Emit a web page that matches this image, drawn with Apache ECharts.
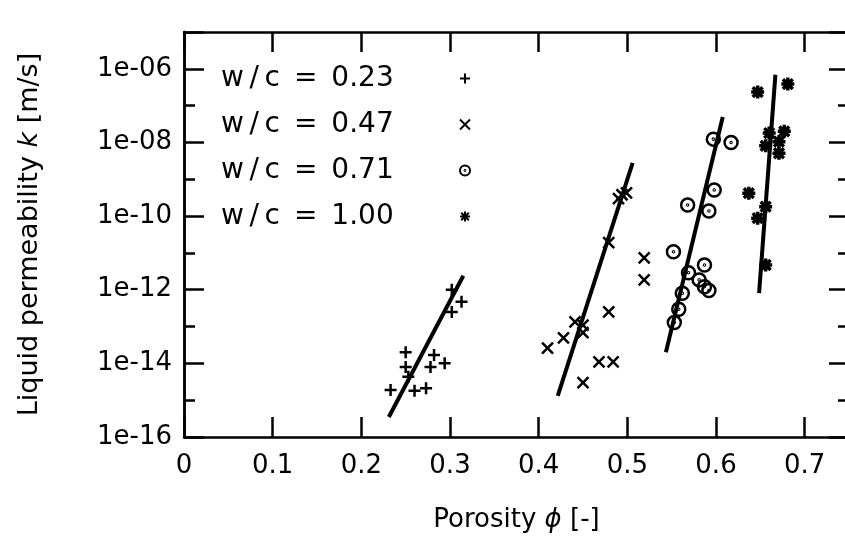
<!DOCTYPE html>
<html>
<head>
<meta charset="utf-8">
<script src="https://cdn.jsdelivr.net/npm/echarts@6/dist/echarts.min.js"></script>
<style>html,body{margin:0;padding:0;background:#fff;}#c{width:845px;height:540px;}</style>
</head>
<body>
<div id="c"></div>
<script>
// ---- data (porosity, permeability m/s) ----
const wc023 = [[0.302,1.0e-12],[0.313,4.7e-13],[0.302,2.5e-13],[0.250,2.0e-14],[0.282,1.7e-14],[0.294,1.0e-14],[0.250,8.0e-15],[0.278,8.0e-15],[0.253,4.3e-15],[0.233,1.9e-15],[0.260,1.8e-15],[0.273,2.1e-15]];
const wc047 = [[0.410,2.6e-14],[0.428,4.9e-14],[0.441,1.33e-13],[0.450,1.1e-13],[0.450,6.8e-14],[0.479,1.9e-11],[0.494,3.8e-10],[0.499,4.3e-10],[0.490,3.0e-10],[0.519,7.3e-12],[0.519,1.85e-12],[0.479,2.5e-13],[0.468,1.1e-14],[0.484,1.1e-14],[0.450,3.0e-15]];
const wc071 = [[0.597,1.23e-8],[0.617,1.0e-8],[0.598,5.1e-10],[0.568,2.0e-10],[0.592,1.38e-10],[0.552,1.08e-11],[0.587,4.7e-12],[0.569,2.9e-12],[0.581,1.85e-12],[0.587,1.2e-12],[0.592,9.5e-13],[0.562,8.0e-13],[0.558,2.95e-13],[0.553,1.28e-13]];
const wc100 = [[0.647,2.33e-7],[0.681,3.84e-7],[0.660,1.8e-8],[0.677,2.0e-8],[0.656,8.1e-9],[0.671,1.05e-8],[0.671,5.1e-9],[0.637,4.2e-10],[0.656,1.8e-10],[0.647,8.8e-11],[0.656,4.7e-12]];
const fit023 = [[0.231,3.5e-16],[0.315,2.4e-12]];
const fit047 = [[0.4215,1.3e-15],[0.506,2.8e-9]];
const fit071 = [[0.5435,2.0e-14],[0.6076,4.9e-8]];
const fit100 = [[0.6486,8.1e-13],[0.667,6.9e-7]];
const seriesNames = ['w/c = 0.23','w/c = 0.47','w/c = 0.71','w/c = 1.00'];
const legendLabels = ['w\u2009/\u2009c\u2002=\u20020.23','w\u2009/\u2009c\u2002=\u20020.47','w\u2009/\u2009c\u2002=\u20020.71','w\u2009/\u2009c\u2002=\u20021.00'];
const xTickLabels = ['0','0.1','0.2','0.3','0.4','0.5','0.6','0.7'];
const yTickLabels = {'-16':'1e-16','-14':'1e-14','-12':'1e-12','-10':'1e-10','-8':'1e-08','-6':'1e-06'};

const PLUS = 'path://M5,0L5,10M0,5L10,5';
const CROSS = 'path://M0,0L10,10M0,10L10,0';
const CIRC = 'path://M5,0A5,5 0 1 1 5,10A5,5 0 1 1 5,0ZM5,4.6A0.4,0.4 0 1 1 5,5.4A0.4,0.4 0 1 1 5,4.6Z';
const STAR = 'path://M5,0L5,10M0,5L10,5M1.2,1.2L8.8,8.8M1.2,8.8L8.8,1.2';

const FONT = 'DejaVu Sans';
const chart = echarts.init(document.getElementById('c'));

function yAxisDef(pos, interval, len, labels) {
  return {
    type: 'log', logBase: 10, min: 1e-16, max: 1e-5, interval: interval, position: pos,
    axisLine: {show: true, lineStyle: {color: '#000', width: 2.5}},
    axisTick: {show: true, inside: true, length: len, lineStyle: {color: '#000', width: 2.5}},
    axisLabel: {show: labels, color: '#000', fontFamily: FONT, fontSize: 26, margin: 12,
      formatter: function (v) { const e = Math.round(Math.log10(v)); return yTickLabels[String(e)] || ''; }},
    splitLine: {show: false}, minorTick: {show: false}
  };
}
function xAxisDef(pos, labels) {
  return {
    type: 'value', min: 0, max: 0.75, interval: 0.1, position: pos,
    axisLine: {show: true, onZero: false, lineStyle: {color: '#000', width: 2.5}},
    axisTick: {show: true, inside: true, length: 20, lineStyle: {color: '#000', width: 2.5}},
    axisLabel: {show: labels, color: '#000', fontFamily: FONT, fontSize: 26, margin: 16,
      formatter: function (v) { const i = Math.round(v * 10); return xTickLabels[i] !== undefined ? xTickLabels[i] : ''; }},
    splitLine: {show: false}
  };
}

const xs = [xAxisDef('bottom', true), xAxisDef('top', false)];
xs[0].name = 'Porosity {i|ϕ} [-]';
xs[0].nameLocation = 'middle';
xs[0].nameGap = 70;
xs[0].nameTextStyle = {color: '#000', fontFamily: FONT, fontSize: 26, rich: {i: {fontStyle: 'italic', fontFamily: FONT, fontSize: 26, color: '#000'}}};

const ys = [yAxisDef('left', 2, 20, true), yAxisDef('left', 1, 11, false), yAxisDef('right', 2, 20, false), yAxisDef('right', 1, 11, false)];
ys[0].name = 'Liquid permeability {i|k} [m/s]';
ys[0].nameLocation = 'middle';
ys[0].nameGap = 141;
ys[0].nameTextStyle = {color: '#000', fontFamily: FONT, fontSize: 27, rich: {i: {fontStyle: 'italic', fontFamily: FONT, fontSize: 27, color: '#000'}}};

function scat(name, data, sym, size, bw) {
  return {type: 'scatter', name: name, data: data, symbol: sym, symbolSize: size,
    itemStyle: {color: 'none', borderColor: '#000', borderWidth: bw, opacity: 1},
    emphasis: {disabled: true}, z: 3};
}
function fit(name, data) {
  return {type: 'line', name: name, data: data, symbol: 'none', lineStyle: {color: '#000', width: 4},
    emphasis: {disabled: true}, z: 2};
}

chart.setOption({
  animation: false,
  backgroundColor: '#fff',
  grid: {left: 184, right: -4, top: 32, bottom: 103, containLabel: false, outerBoundsMode: 'none'},
  xAxis: xs,
  yAxis: ys,
  legend: {
    orient: 'vertical', left: 216, top: 58, align: 'right', itemGap: 15,
    itemWidth: 10, itemHeight: 10, selectedMode: false,
    formatter: function (name) { return '{a|' + legendLabels[seriesNames.indexOf(name)] + '}'; },
    textStyle: {color: '#000', fontFamily: FONT, fontSize: 28, lineHeight: 31,
      rich: {a: {width: 234, align: 'left', fontFamily: FONT, fontSize: 28, color: '#000', lineHeight: 31}}},
    data: [
      {name: seriesNames[0], icon: PLUS},
      {name: seriesNames[1], icon: CROSS},
      {name: seriesNames[2], icon: CIRC},
      {name: seriesNames[3], icon: STAR}
    ]
  },
  series: [
    scat(seriesNames[0], wc023, PLUS, 12, 2.5),
    scat(seriesNames[1], wc047, CROSS, 11, 2.5),
    scat(seriesNames[2], wc071, CIRC, 13, 2.5),
    scat(seriesNames[3], wc100, STAR, 13, 3.5),
    fit('fit 0.23', fit023),
    fit('fit 0.47', fit047),
    fit('fit 0.71', fit071),
    fit('fit 1.00', fit100)
  ]
});
</script>
</body>
</html>
